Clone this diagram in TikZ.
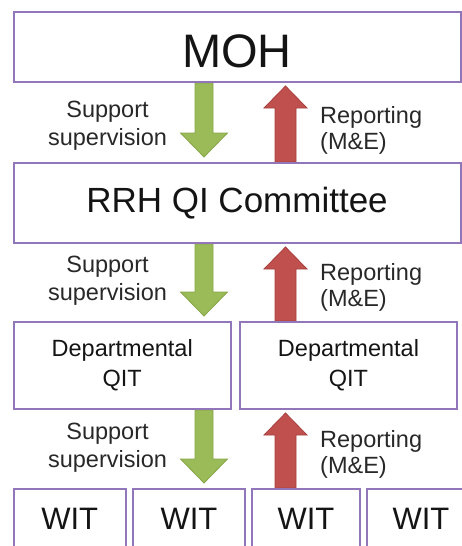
\documentclass[tikz,border=0pt]{standalone}
\usepackage{fontspec}
\setmainfont{Liberation Sans}
\usetikzlibrary{calc,backgrounds}
\definecolor{boxline}{RGB}{146,118,186}
\definecolor{supfill}{RGB}{155,187,89}
\definecolor{supline}{RGB}{134,166,72}
\definecolor{repfill}{RGB}{192,80,77}
\definecolor{repline}{RGB}{166,64,62}
\definecolor{txt}{RGB}{20,20,20}
\definecolor{lbl}{RGB}{40,40,40}
\newcommand{\suparrow}[2]{%
  \path[suparrowstyle] let \p1=(#1.south), \p2=(#2.north) in
    (195pt,\y1) -- (213pt,\y1) -- (213pt,\y2+29pt) -- (227.5pt,\y2+29pt)
    -- (204pt,\y2+5pt) -- (180.5pt,\y2+29pt) -- (195pt,\y2+29pt) -- cycle;}
\newcommand{\reparrow}[2]{%
  \path[reparrowstyle] let \p1=(#1.north), \p2=(#2.south) in
    (275pt,\y1) -- (296pt,\y1) -- (296pt,\y2-25pt) -- (307pt,\y2-25pt)
    -- (285.5pt,\y2-3pt) -- (264pt,\y2-25pt) -- (275pt,\y2-25pt) -- cycle;}
\begin{document}
\begin{tikzpicture}[x=1pt,y=-1pt,
  box/.style={draw=boxline, line width=2pt, rectangle, inner sep=0pt, text=txt, align=center},
  lab/.style={inner sep=0pt, text=lbl, align=center},
  suparrowstyle/.style={fill=supfill, draw=supline, line width=0.8pt},
  reparrowstyle/.style={fill=repfill, draw=repline, line width=0.8pt}]
\useasboundingbox (0,0) rectangle (462,546);
\begin{scope}
\clip (0,0) rectangle (462,546);
\node[box, minimum width=447pt, minimum height=70pt, text height=40.6pt, text depth=0pt,
  font=\fontsize{47}{56}\selectfont] (moh) at (237,47) {MOH};
\node[box, minimum width=447pt, minimum height=80pt,
  font=\fontsize{35}{42}\selectfont] (rrh) at (237,203) {RRH QI Committee};
\node[box, minimum width=217.5pt, minimum height=87pt,
  font=\fontsize{23.5}{30}\selectfont] (deptL) at (122.25,365.5) {Departmental\\QIT};
\node[box, minimum width=217pt, minimum height=87pt,
  font=\fontsize{23.5}{30}\selectfont] (deptR) at (348.5,365.5) {Departmental\\QIT};
\node[box, minimum width=112.5pt, minimum height=60pt, font=\fontsize{31}{37}\selectfont] (wit1) at (69.75,519) {WIT};
\node[box, minimum width=112pt, minimum height=60pt, font=\fontsize{31}{37}\selectfont] (wit2) at (189,519) {WIT};
\node[box, minimum width=108pt, minimum height=60pt, font=\fontsize{31}{37}\selectfont] (wit3) at (306,519) {WIT};
\node[box, minimum width=108pt, minimum height=60pt, font=\fontsize{31}{37}\selectfont] (wit4) at (421,519) {WIT};
\end{scope}
\begin{pgfonlayer}{background}
\suparrow{moh}{rrh}
\suparrow{rrh}{deptL}
\suparrow{deptL}{wit2}
\reparrow{rrh}{moh}
\reparrow{deptR}{rrh}
\reparrow{wit3}{deptR}
\end{pgfonlayer}
\node[lab, font=\fontsize{23.5}{28}\selectfont] (s1) at (107.5,126) {Support\\supervision};
\node[lab, font=\fontsize{23.5}{28}\selectfont] (s2) at (107.5,281) {Support\\supervision};
\node[lab, font=\fontsize{23.5}{28}\selectfont] (s3) at (107.5,448) {Support\\supervision};
\node[lab, anchor=west, align=left, font=\fontsize{23.5}{26}\selectfont] (r1) at (320,130) {Reporting\\(M\&E)};
\node[lab, anchor=west, align=left, font=\fontsize{23.5}{26}\selectfont] (r2) at (320,287) {Reporting\\(M\&E)};
\node[lab, anchor=west, align=left, font=\fontsize{23.5}{26}\selectfont] (r3) at (320,454) {Reporting\\(M\&E)};
\end{tikzpicture}
\end{document}
